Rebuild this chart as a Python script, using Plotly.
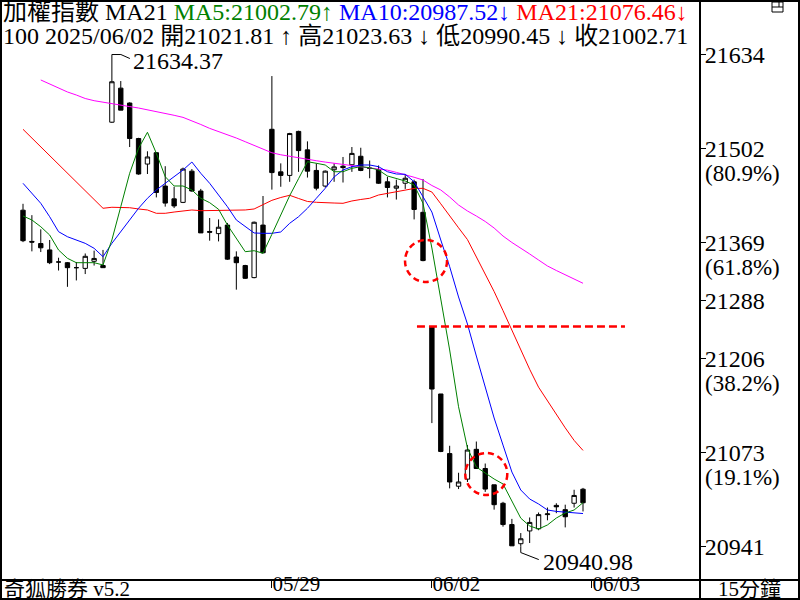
import plotly.graph_objects as go

# ---------------- data (15-minute bars, TAIEX) ----------------
opens = [21415, 21371, 21368, 21359, 21342, 21341, 21334, 21333, 21343, 21337,
         21539, 21587, 21566, 21516, 21480, 21496, 21449, 21431, 21426, 21470,
         21442, 21385, 21382, 21394, 21349, 21337, 21320, 21394, 21529, 21469,
         21464, 21526, 21500, 21471, 21449, 21472, 21477, 21479, 21491, 21474,
         21472, 21455, 21446, 21453, 21455, 21412, 21251, 21156, 21072, 21026,
         21036, 21078, 21051, 21028, 21002, 20972, 20945, 20963, 20966, 20986,
         20999, 20993, 21002, 21021.81]
highs = [21424, 21408, 21388, 21373, 21348, 21342, 21342, 21354, 21358, 21359,
         21634.37, 21597, 21567, 21517, 21498, 21497, 21477, 21448, 21475, 21473,
         21445, 21404, 21402, 21397, 21357, 21338, 21399, 21435, 21604, 21481,
         21524, 21527, 21512, 21481, 21471, 21481, 21490, 21504, 21503, 21485,
         21478, 21462, 21458, 21465, 21458, 21459, 21251, 21156, 21083, 21045,
         21084, 21089, 21058, 21028, 21004, 20980, 20960, 20982, 20989, 20996,
         21002, 21000, 21021, 21023.63]
lows = [21370, 21357, 21356, 21339, 21330, 21307, 21316, 21325, 21337, 21334,
        21538, 21556, 21504, 21465, 21466, 21433, 21420, 21418, 21425, 21441,
        21383, 21372, 21371, 21345, 21303, 21318, 21319, 21354, 21444, 21448,
        21455, 21469, 21461, 21443, 21447, 21455, 21454, 21469, 21470, 21460,
        21452, 21433, 21430, 21445, 21402, 21343, 21115, 21074, 21023, 21022,
        21032, 21051, 21018, 20993, 20969, 20942, 20940.98, 20946, 20964, 20978,
        20988, 20968, 20996, 20990.45]
closes = [21372, 21370, 21362, 21341, 21342, 21334, 21334, 21350, 21347, 21334,
          21596, 21556, 21516, 21466, 21490, 21440, 21425, 21421, 21473, 21442,
          21383, 21384, 21391, 21346, 21341, 21319, 21398, 21355, 21468, 21464,
          21523, 21499, 21470, 21446, 21470, 21476, 21475, 21495, 21471, 21474,
          21453, 21447, 21449, 21460, 21416, 21344, 21163, 21075, 21032, 21032,
          21077, 21051, 21022, 21000, 20972, 20942, 20952, 20975, 20986, 20987,
          20997, 20983, 21013, 21002.71]

ma5 = [21406.8, 21401.2, 21391.7, 21380.0, 21358.9, 21347.2, 21341.0, 21341.0, 21341.0, 21337.8,
       21373.0, 21419.9, 21467.0, 21502.2, 21524.8, 21495.2, 21462.2, 21449.1, 21449.1, 21443.5,
       21431.8, 21425.6, 21416.3, 21394.1, 21375.4, 21356.5, 21357.9, 21354.3, 21381.0, 21407.8,
       21435.4, 21459.4, 21483.3, 21481.1, 21478.7, 21469.2, 21469.2, 21474.0, 21476.3, 21474.9,
       21471.6, 21463.2, 21459.9, 21456.1, 21450.5, 21424.7, 21361.7, 21291.3, 21218.0, 21138.0,
       21079.9, 21053.1, 21044.7, 21036.2, 21029.2, 21004.0, 20981.0, 20970.0, 20965.7, 20971.4,
       20981.2, 20988.3, 20992.5, 21002.79]
ma10 = [21452.9, 21438.8, 21424.7, 21405.8, 21384.7, 21377.6, 21373.0, 21368.3, 21361.3, 21349.5,
        21368.3, 21384.7, 21401.2, 21417.7, 21431.8, 21443.5, 21452.9, 21462.2, 21471.6, 21482.9,
        21467.0, 21452.9, 21436.4, 21419.9, 21401.2, 21391.7, 21382.9, 21382.4, 21382.4, 21384.3,
        21396.5, 21405.8, 21417.7, 21431.8, 21445.8, 21461.8, 21471.6, 21476.3, 21478.7, 21478.7,
        21476.3, 21469.2, 21466.0, 21465.6, 21455.1, 21434.0, 21412.4, 21373.0, 21335.4, 21292.7,
        21254.6, 21209.5, 21167.3, 21122.2, 21084.0, 21046.0, 21020.7, 21008.0, 21001.0, 20992.5,
        20990.5, 20989.5, 20988.5, 20987.52]
ma21 = [21529.0, 21516.6, 21504.2, 21491.8, 21479.5, 21467.1, 21454.7, 21442.3, 21429.9, 21417.7,
        21419.1, 21418.8, 21418.5, 21416.7, 21415.3, 21410.6, 21410.6, 21412.4, 21414.3, 21415.3,
        21414.3, 21414.3, 21414.3, 21414.6, 21415.3, 21415.3, 21416.7, 21422.3, 21428.9, 21432.9,
        21436.0, 21431.5, 21427.3, 21426.1, 21426.1, 21425.1, 21424.7, 21428.0, 21430.1, 21431.8,
        21436.4, 21438.5, 21441.1, 21443.5, 21445.6, 21445.8, 21440.6, 21424.0, 21406.4, 21390.2,
        21373.6, 21349.9, 21325.5, 21300.4, 21273.5, 21245.9, 21217.8, 21190.8, 21165.6, 21146.0,
        21127.1, 21108.3, 21090.6, 21076.46]
ma60 = [None, None, 21598.5, 21592.8, 21587.2, 21581.6, 21577.3, 21572.4, 21569.3, 21567.0,
        21564.9, 21563.0, 21561.0, 21559.0, 21556.6, 21554.2, 21552.0, 21548.7, 21545.8, 21541.3,
        21535.8, 21530.3, 21525.9, 21521.0, 21516.7, 21511.5, 21506.4, 21501.2, 21495.9, 21493.1,
        21490.8, 21488.6, 21486.6, 21484.7, 21482.8, 21480.9, 21479.3, 21477.7, 21476.2, 21474.6,
        21473.1, 21471.4, 21468.3, 21465.2, 21461.4, 21457.5, 21449.8, 21443.5, 21433.6, 21422.3,
        21413.9, 21406.8, 21399.1, 21389.9, 21378.6, 21369.5, 21361.7, 21353.3, 21344.8, 21336.4,
        21330.0, 21323.7, 21317.3, 21312.0]

bar_index = list(range(len(opens)))

date_tick_bars = [28, 46, 64]
date_tick_labels = ["05/29", "06/02", "06/03"]

y_tick_values = [21634.37, 21501.93, 21369.49, 21287.68, 21205.85, 21073.42, 20940.98]
y_tick_labels = ["21634", "21502", "21369", "21288", "21206", "21073", "20941"]
y_tick_pcts = ["", "(80.9%)", "(61.8%)", "", "(38.2%)", "(19.1%)", ""]

high_bar, high_value = 10, 21634.37
low_bar, low_value = 56, 20940.98

# marked spots (bar index, price) of the dashed circles
circle_centers = [(45.34, 21343.4), (52.12, 21043.2)]
gap_line_bar_range = (44.32, 67.72)
gap_line_value = opens[46]

FONT = "Liberation Serif, 'Noto Sans CJK TC', serif"

# ---------------- geometry ----------------
W, H = 800, 600
ML, MR, MT, MB = 0, 100, 0, 20
PW, PH = W - ML - MR, H - MT - MB
bar_px = 8.889
x_lo = -23.0 / bar_px
x_hi = x_lo + PW / bar_px
pts_per_px = 1.4092
y_hi = 21711.2
y_lo = y_hi - PH * pts_per_px

def px_x(p):
    return p / PW

def px_y(p):
    return 1 - p / PH

fig = go.Figure()
fig.add_trace(go.Candlestick(
    x=bar_index, open=opens, high=highs, low=lows, close=closes,
    increasing=dict(line=dict(color="black", width=1), fillcolor="white"),
    decreasing=dict(line=dict(color="black", width=1), fillcolor="black"),
    whiskerwidth=0, hoverinfo="skip", showlegend=False))

for series, color in [(ma60, "#ff00ff"), (ma21, "#ff0000"), (ma10, "#0000ff"), (ma5, "#008000")]:
    fig.add_trace(go.Scatter(x=bar_index, y=series, mode="lines",
                             line=dict(color=color, width=1), hoverinfo="skip",
                             showlegend=False))

shapes = []
shapes.append(dict(type="line", xref="x", yref="y", x0=gap_line_bar_range[0],
                   x1=gap_line_bar_range[1], y0=gap_line_value, y1=gap_line_value,
                   line=dict(color="#ff0000", width=2.5, dash="8px,4px")))
r_bar = 21 / bar_px
r_val = 21 * pts_per_px
for cx, cy in circle_centers:
    shapes.append(dict(type="circle", xref="x", yref="y", x0=cx - r_bar, x1=cx + r_bar,
                       y0=cy - r_val, y1=cy + r_val,
                       line=dict(color="#ff0000", width=2.5, dash="6px,4px")))
shapes.append(dict(type="path", xref="x", yref="y", xsizemode="pixel", ysizemode="pixel",
                   xanchor=high_bar, yanchor=high_value, path="M 0 0 L 9 0 L 18 -4",
                   line=dict(color="black", width=1)))
shapes.append(dict(type="path", xref="x", yref="y", xsizemode="pixel", ysizemode="pixel",
                   xanchor=low_bar, yanchor=low_value, path="M 0 0 L 0 -6 L 18 -13",
                   line=dict(color="black", width=1)))
frame = dict(color="black", width=2)
shapes.append(dict(type="rect", xref="paper", yref="paper", x0=px_x(1), x1=px_x(799),
                   y0=px_y(599), y1=px_y(1), line=frame, fillcolor="rgba(0,0,0,0)"))
shapes.append(dict(type="line", xref="paper", yref="paper", x0=px_x(PW), x1=px_x(PW),
                   y0=px_y(0), y1=px_y(599), line=frame))
shapes.append(dict(type="line", xref="paper", yref="paper", x0=px_x(0), x1=px_x(799),
                   y0=px_y(PH), y1=px_y(PH), line=frame))
icon = dict(color="black", width=1)
shapes.append(dict(type="rect", xref="paper", yref="paper", x0=px_x(772), x1=px_x(783),
                   y0=px_y(12), y1=px_y(2), line=icon, fillcolor="rgba(0,0,0,0)"))
shapes.append(dict(type="line", xref="paper", yref="paper", x0=px_x(772), x1=px_x(783),
                   y0=px_y(7), y1=px_y(7), line=icon))
shapes.append(dict(type="line", xref="paper", yref="paper", x0=px_x(779), x1=px_x(779),
                   y0=px_y(7), y1=px_y(2), line=icon))

annotations = []
line1 = ('加權指數 MA21 '
         f'<span style="color:#008000">MA5:{ma5[-1]:.2f}↑</span> '
         f'<span style="color:#0000ff">MA10:{ma10[-1]:.2f}↓</span> '
         f'<span style="color:#ff0000">MA21:{ma21[-1]:.2f}↓</span>')
line2 = (f'100 2025/06/02 開{opens[-1]:.2f} ↑ 高{highs[-1]:.2f} ↓ '
         f'低{lows[-1]:.2f} ↓ 收{closes[-1]:.2f}')
annotations.append(dict(text=line1, xref="paper", yref="paper", x=px_x(1), y=px_y(12),
                        xanchor="left", yanchor="middle", showarrow=False,
                        font=dict(family=FONT, size=24, color="black")))
annotations.append(dict(text=line2, xref="paper", yref="paper", x=px_x(1), y=px_y(36),
                        xanchor="left", yanchor="middle", showarrow=False,
                        font=dict(family=FONT, size=24, color="black")))
annotations.append(dict(text=f"{high_value:.2f}", xref="x", yref="y", x=high_bar, y=high_value,
                        xanchor="left", yanchor="middle", xshift=19, yshift=-6,
                        showarrow=False, font=dict(family=FONT, size=24, color="black")))
annotations.append(dict(text=f"{low_value:.2f}", xref="x", yref="y", x=low_bar, y=low_value,
                        xanchor="left", yanchor="middle", xshift=20, yshift=-15,
                        showarrow=False, font=dict(family=FONT, size=24, color="black")))
for v, p in zip(y_tick_values, y_tick_pcts):
    if p:
        annotations.append(dict(text=p, xref="paper", yref="y", x=1, y=v, xanchor="left",
                                yanchor="middle", xshift=3, yshift=-25, showarrow=False,
                                font=dict(family=FONT, size=23, color="black")))
annotations.append(dict(text="奇狐勝券 v5.2", xref="paper", yref="paper", x=px_x(2),
                        y=px_y(589), xanchor="left", yanchor="middle", showarrow=False,
                        font=dict(family=FONT, size=21, color="black")))
annotations.append(dict(text="15分鐘", xref="paper", yref="paper", x=px_x(749),
                        y=px_y(589), xanchor="center", yanchor="middle", showarrow=False,
                        font=dict(family=FONT, size=21, color="black")))

fig.update_layout(
    width=W, height=H, autosize=False,
    margin=dict(l=ML, r=MR, t=MT, b=MB, pad=0, autoexpand=False),
    paper_bgcolor="white", plot_bgcolor="white",
    showlegend=False, hovermode=False,
    shapes=shapes, annotations=annotations,
    xaxis=dict(range=[x_lo, x_hi], rangeslider=dict(visible=False), showgrid=False,
               zeroline=False, showline=False, tickvals=date_tick_bars,
               ticktext=date_tick_labels, ticks="outside", ticklen=7, tickwidth=1,
               tickcolor="black", ticklabelposition="outside right", automargin=False,
               ticklabelstandoff=-15,
               tickfont=dict(family=FONT, size=21, color="black")),
    yaxis=dict(range=[y_lo, y_hi], side="right", showgrid=False, zeroline=False,
               showline=False, tickvals=y_tick_values, ticktext=y_tick_labels,
               ticks="outside", ticklen=5, tickwidth=1, tickcolor="black",
               ticklabelstandoff=-6, automargin=False,
               tickfont=dict(family=FONT, size=24, color="black")),
)

fig.write_html("out.html", config={"displayModeBar": False},
               post_script="document.body.style.margin='0';")
